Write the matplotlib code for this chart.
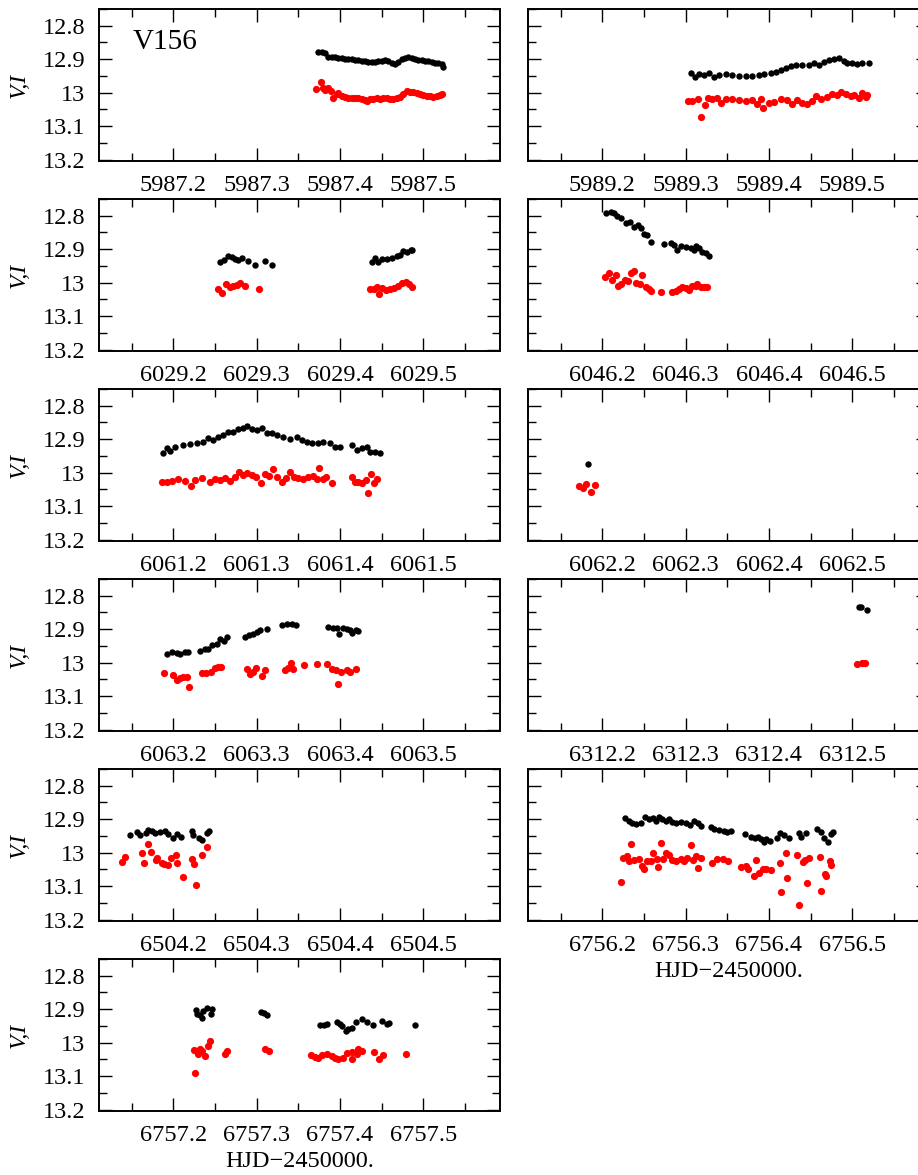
import matplotlib.pyplot as plt
from matplotlib.ticker import MultipleLocator, FormatStrFormatter

plt.rcParams['font.family'] = ['Liberation Serif', 'DejaVu Serif']

# light curves of V156, one night per panel (HJD-2450000, magnitude)
hjd_V_5987 = [5987.374, 5987.378, 5987.382, 5987.386, 5987.390, 5987.394, 5987.398, 5987.402,
              5987.406, 5987.410, 5987.414, 5987.418, 5987.422, 5987.426, 5987.430, 5987.434,
              5987.438, 5987.442, 5987.446, 5987.450, 5987.454, 5987.458, 5987.462, 5987.466,
              5987.470, 5987.474, 5987.478, 5987.482, 5987.486, 5987.490, 5987.494, 5987.498,
              5987.502, 5987.506, 5987.510, 5987.514, 5987.518, 5987.522, 5987.524]
mag_V_5987 = [12.877, 12.879, 12.882, 12.892, 12.893, 12.894, 12.895, 12.896,
              12.898, 12.899, 12.900, 12.902, 12.903, 12.905, 12.906, 12.907,
              12.909, 12.907, 12.906, 12.904, 12.903, 12.905, 12.910, 12.915,
              12.908, 12.900, 12.896, 12.894, 12.896, 12.898, 12.901, 12.902,
              12.904, 12.906, 12.908, 12.910, 12.911, 12.915, 12.922]
hjd_I_5987 = [5987.371, 5987.377, 5987.380, 5987.382, 5987.386, 5987.389, 5987.392, 5987.396,
              5987.398, 5987.402, 5987.406, 5987.410, 5987.414, 5987.418, 5987.422, 5987.426,
              5987.430, 5987.433, 5987.436, 5987.440, 5987.444, 5987.448, 5987.452, 5987.456,
              5987.460, 5987.464, 5987.468, 5987.472, 5987.476, 5987.480, 5987.484, 5987.488,
              5987.492, 5987.496, 5987.500, 5987.504, 5987.508, 5987.512, 5987.516, 5987.520,
              5987.522]
mag_I_5987 = [12.990, 12.969, 12.985, 12.992, 12.987, 12.995, 13.017, 13.005,
              13.000, 13.010, 13.013, 13.015, 13.017, 13.015, 13.016, 13.020,
              13.023, 13.025, 13.020, 13.018, 13.017, 13.018, 13.017, 13.017,
              13.018, 13.019, 13.016, 13.012, 13.005, 12.995, 12.997, 12.998,
              13.001, 13.004, 13.007, 13.009, 13.011, 13.012, 13.010, 13.007,
              13.005]

hjd_V_5989 = [5989.306, 5989.311, 5989.316, 5989.322, 5989.328, 5989.334, 5989.340, 5989.348,
              5989.356, 5989.364, 5989.372, 5989.380, 5989.388, 5989.394, 5989.402, 5989.408,
              5989.414, 5989.420, 5989.426, 5989.432, 5989.440, 5989.448, 5989.454, 5989.460,
              5989.466, 5989.472, 5989.478, 5989.484, 5989.490, 5989.494, 5989.500, 5989.506,
              5989.512, 5989.520]
mag_V_5989 = [12.940, 12.953, 12.944, 12.947, 12.940, 12.952, 12.947, 12.944,
              12.947, 12.949, 12.949, 12.950, 12.947, 12.944, 12.942, 12.937,
              12.932, 12.927, 12.920, 12.917, 12.917, 12.917, 12.912, 12.917,
              12.907, 12.902, 12.900, 12.897, 12.905, 12.912, 12.910, 12.914,
              12.910, 12.912]
hjd_I_5989 = [5989.303, 5989.308, 5989.315, 5989.319, 5989.323, 5989.327, 5989.332, 5989.338,
              5989.343, 5989.348, 5989.356, 5989.364, 5989.372, 5989.380, 5989.386, 5989.390,
              5989.393, 5989.400, 5989.406, 5989.414, 5989.422, 5989.428, 5989.434, 5989.440,
              5989.446, 5989.452, 5989.456, 5989.462, 5989.470, 5989.476, 5989.482, 5989.486,
              5989.492, 5989.498, 5989.502, 5989.508, 5989.512, 5989.516, 5989.518]
mag_I_5989 = [13.025, 13.025, 13.020, 13.073, 13.037, 13.017, 13.020, 13.015,
              13.032, 13.018, 13.020, 13.022, 13.025, 13.023, 13.035, 13.020,
              13.045, 13.032, 13.028, 13.020, 13.022, 13.035, 13.022, 13.030,
              13.035, 13.025, 13.010, 13.020, 13.013, 13.005, 13.007, 12.998,
              13.005, 13.010, 13.007, 13.017, 13.000, 13.012, 13.007]

hjd_V_6029 = [6029.256, 6029.261, 6029.266, 6029.270, 6029.274, 6029.278, 6029.283, 6029.290,
              6029.298, 6029.310, 6029.319,
              6029.438, 6029.442, 6029.446, 6029.450, 6029.456, 6029.462, 6029.468, 6029.472,
              6029.476, 6029.481, 6029.485, 6029.487]
mag_V_6029 = [12.939, 12.933, 12.921, 12.924, 12.928, 12.931, 12.926, 12.936,
              12.946, 12.934, 12.946,
              12.939, 12.926, 12.938, 12.929, 12.928, 12.926, 12.921, 12.916,
              12.906, 12.909, 12.901, 12.901]
hjd_I_6029 = [6029.254, 6029.259, 6029.263, 6029.268, 6029.272, 6029.277, 6029.280, 6029.286,
              6029.303,
              6029.436, 6029.441, 6029.444, 6029.447, 6029.451, 6029.455, 6029.460, 6029.465,
              6029.470, 6029.474, 6029.479, 6029.483, 6029.486]
mag_I_6029 = [13.018, 13.032, 13.005, 13.012, 13.010, 13.008, 13.002, 13.010,
              13.018,
              13.018, 13.020, 13.012, 13.035, 13.015, 13.022, 13.018, 13.016,
              13.010, 13.000, 12.998, 13.005, 13.013]

hjd_V_6046 = [6046.205, 6046.210, 6046.214, 6046.218, 6046.222, 6046.228, 6046.233, 6046.238,
              6046.243, 6046.247, 6046.250, 6046.254, 6046.258, 6046.274, 6046.282, 6046.286,
              6046.290, 6046.294, 6046.300, 6046.306, 6046.310, 6046.313, 6046.316, 6046.320,
              6046.324, 6046.328]
mag_V_6046 = [12.791, 12.788, 12.793, 12.800, 12.808, 12.823, 12.820, 12.835,
              12.828, 12.838, 12.855, 12.857, 12.879, 12.884, 12.882, 12.887,
              12.902, 12.890, 12.894, 12.897, 12.903, 12.889, 12.897, 12.909,
              12.912, 12.919]
hjd_I_6046 = [6046.203, 6046.208, 6046.212, 6046.216, 6046.219, 6046.223, 6046.227, 6046.231,
              6046.234, 6046.238, 6046.241, 6046.245, 6046.248, 6046.252, 6046.256, 6046.259,
              6046.270, 6046.284, 6046.288, 6046.292, 6046.296, 6046.300, 6046.304, 6046.308,
              6046.312, 6046.314, 6046.318, 6046.322, 6046.326]
mag_I_6046 = [12.983, 12.971, 12.993, 12.978, 13.011, 13.004, 12.993, 12.996,
              12.971, 12.964, 13.000, 13.004, 12.976, 13.013, 13.018, 13.024,
              13.029, 13.029, 13.026, 13.019, 13.013, 13.016, 13.023, 13.011,
              13.011, 13.003, 13.013, 13.013, 13.013]

hjd_V_6061 = [6061.188, 6061.192, 6061.196, 6061.202, 6061.212, 6061.220, 6061.228, 6061.236,
              6061.242, 6061.248, 6061.254, 6061.260, 6061.266, 6061.272, 6061.278, 6061.284,
              6061.288, 6061.294, 6061.300, 6061.306, 6061.312, 6061.318, 6061.324, 6061.332,
              6061.340, 6061.348, 6061.354, 6061.360, 6061.366, 6061.374, 6061.380, 6061.388,
              6061.394, 6061.400, 6061.414, 6061.420, 6061.426, 6061.432, 6061.436, 6061.442,
              6061.448]
mag_V_6061 = [12.940, 12.927, 12.935, 12.922, 12.917, 12.914, 12.912, 12.907,
              12.897, 12.902, 12.892, 12.887, 12.877, 12.877, 12.870, 12.867,
              12.862, 12.870, 12.872, 12.867, 12.880, 12.882, 12.887, 12.894,
              12.900, 12.894, 12.902, 12.907, 12.910, 12.912, 12.909, 12.912,
              12.922, 12.924, 12.917, 12.932, 12.927, 12.922, 12.937, 12.937,
              12.942]
hjd_I_6061 = [6061.186, 6061.192, 6061.198, 6061.206, 6061.214, 6061.221, 6061.226, 6061.234,
              6061.244, 6061.250, 6061.256, 6061.262, 6061.268, 6061.274, 6061.279, 6061.284,
              6061.288, 6061.294, 6061.299, 6061.305, 6061.310, 6061.315, 6061.320, 6061.324,
              6061.330, 6061.335, 6061.340, 6061.345, 6061.350, 6061.356, 6061.362, 6061.368,
              6061.372, 6061.375, 6061.380, 6061.383, 6061.390, 6061.414, 6061.418, 6061.422,
              6061.426, 6061.431, 6061.434, 6061.437, 6061.441, 6061.445]
mag_I_6061 = [13.027, 13.027, 13.024, 13.020, 13.024, 13.040, 13.022, 13.017,
              13.027, 13.019, 13.022, 13.017, 13.024, 13.012, 12.997, 13.007,
              13.000, 13.007, 13.012, 13.030, 13.004, 13.010, 12.990, 13.012,
              13.027, 13.017, 12.997, 13.012, 13.017, 13.020, 13.012, 13.010,
              13.020, 12.987, 13.020, 13.014, 13.032, 13.014, 13.027, 13.027,
              13.030, 13.022, 13.062, 13.004, 13.030, 13.020]

hjd_V_6062 = [6062.183]
mag_V_6062 = [12.973]
hjd_I_6062 = [6062.172, 6062.177, 6062.181, 6062.186, 6062.191]
mag_I_6062 = [13.040, 13.046, 13.035, 13.059, 13.038]

hjd_V_6063 = [6063.192, 6063.198, 6063.204, 6063.208, 6063.214, 6063.218, 6063.232, 6063.238,
              6063.242, 6063.247, 6063.252, 6063.256, 6063.261, 6063.265, 6063.286, 6063.291,
              6063.296, 6063.300, 6063.304, 6063.312, 6063.331, 6063.336, 6063.342, 6063.347,
              6063.386, 6063.392, 6063.396, 6063.399, 6063.404, 6063.408, 6063.412, 6063.415,
              6063.419, 6063.422]
mag_V_6063 = [12.973, 12.968, 12.970, 12.975, 12.968, 12.968, 12.965, 12.958,
              12.960, 12.947, 12.943, 12.930, 12.935, 12.923, 12.923, 12.917,
              12.913, 12.908, 12.903, 12.900, 12.887, 12.885, 12.885, 12.887,
              12.892, 12.897, 12.897, 12.913, 12.895, 12.900, 12.902, 12.910,
              12.903, 12.905]
hjd_I_6063 = [6063.189, 6063.200, 6063.204, 6063.208, 6063.212, 6063.216, 6063.219, 6063.234,
              6063.239, 6063.245, 6063.250, 6063.254, 6063.257, 6063.288, 6063.292, 6063.296,
              6063.299, 6063.306, 6063.310, 6063.334, 6063.338, 6063.341, 6063.344, 6063.357,
              6063.373, 6063.385, 6063.390, 6063.395, 6063.398, 6063.401, 6063.408, 6063.412,
              6063.419]
mag_I_6063 = [13.030, 13.037, 13.053, 13.045, 13.043, 13.043, 13.073, 13.032,
              13.030, 13.027, 13.017, 13.012, 13.013, 13.020, 13.035, 13.028,
              13.017, 13.040, 13.022, 13.023, 13.015, 13.000, 13.020, 13.008,
              13.005, 13.005, 13.020, 13.023, 13.063, 13.027, 13.023, 13.027,
              13.020]

hjd_V_6312 = [6312.508, 6312.511, 6312.518]
mag_V_6312 = [12.834, 12.835, 12.842]
hjd_I_6312 = [6312.506, 6312.512, 6312.515]
mag_I_6312 = [13.003, 13.002, 13.000]

hjd_V_6504 = [6504.148, 6504.156, 6504.160, 6504.167, 6504.170, 6504.174, 6504.178, 6504.184,
              6504.190, 6504.194, 6504.200, 6504.204, 6504.209, 6504.222, 6504.224, 6504.231,
              6504.234, 6504.241, 6504.243]
mag_V_6504 = [12.947, 12.937, 12.947, 12.940, 12.932, 12.935, 12.940, 12.938,
              12.935, 12.945, 12.955, 12.945, 12.953, 12.935, 12.947, 12.957,
              12.963, 12.940, 12.935]
hjd_I_6504 = [6504.139, 6504.142, 6504.162, 6504.165, 6504.170, 6504.173, 6504.179, 6504.181,
              6504.187, 6504.189, 6504.194, 6504.197, 6504.203, 6504.205, 6504.212, 6504.222,
              6504.225, 6504.227, 6504.235, 6504.240]
mag_I_6504 = [13.028, 13.013, 13.000, 13.031, 12.973, 12.999, 13.023, 13.015,
              13.030, 13.033, 13.038, 13.015, 13.007, 13.031, 13.073, 13.020,
              13.033, 13.095, 13.007, 12.983]

hjd_V_6756 = [6756.227, 6756.232, 6756.236, 6756.241, 6756.246, 6756.251, 6756.256, 6756.261,
              6756.264, 6756.268, 6756.272, 6756.276, 6756.280, 6756.284, 6756.288, 6756.294,
              6756.300, 6756.305, 6756.310, 6756.315, 6756.318, 6756.330, 6756.334, 6756.340,
              6756.346, 6756.350, 6756.354, 6756.371, 6756.379, 6756.383, 6756.387, 6756.391,
              6756.394, 6756.397, 6756.401, 6756.410, 6756.413, 6756.418, 6756.424, 6756.436,
              6756.438, 6756.444, 6756.458, 6756.462, 6756.466, 6756.471, 6756.474, 6756.477]
mag_V_6756 = [12.895, 12.905, 12.910, 12.914, 12.912, 12.892, 12.899, 12.895,
              12.905, 12.892, 12.899, 12.905, 12.899, 12.907, 12.912, 12.909,
              12.912, 12.917, 12.905, 12.912, 12.919, 12.922, 12.929, 12.932,
              12.935, 12.939, 12.935, 12.944, 12.952, 12.956, 12.952, 12.959,
              12.969, 12.960, 12.966, 12.956, 12.942, 12.947, 12.956, 12.942,
              12.952, 12.940, 12.929, 12.939, 12.956, 12.969, 12.945, 12.939]
hjd_I_6756 = [6756.222, 6756.225, 6756.230, 6756.232, 6756.235, 6756.238, 6756.244, 6756.248,
              6756.250, 6756.254, 6756.258, 6756.261, 6756.266, 6756.267, 6756.271, 6756.273,
              6756.277, 6756.280, 6756.284, 6756.289, 6756.294, 6756.298, 6756.302, 6756.307,
              6756.309, 6756.313, 6756.315, 6756.319, 6756.332, 6756.338, 6756.345, 6756.351,
              6756.366, 6756.373, 6756.375, 6756.382, 6756.384, 6756.388, 6756.393, 6756.397,
              6756.403, 6756.413, 6756.415, 6756.420, 6756.422, 6756.434, 6756.436, 6756.441,
              6756.443, 6756.446, 6756.448, 6756.461, 6756.462, 6756.467, 6756.469, 6756.473,
              6756.474]
mag_I_6756 = [13.088, 13.016, 13.011, 13.025, 12.974, 13.021, 13.018, 13.039,
              13.048, 13.025, 13.025, 13.001, 13.018, 13.044, 12.971, 13.018,
              13.001, 13.006, 13.021, 13.024, 13.019, 13.024, 13.016, 12.978,
              13.021, 13.011, 13.046, 13.016, 13.030, 13.018, 13.018, 13.024,
              13.043, 13.039, 13.050, 13.070, 13.022, 13.060, 13.050, 13.050,
              13.053, 13.031, 13.118, 13.001, 13.075, 13.008, 13.156, 13.027,
              13.022, 13.090, 13.016, 13.014, 13.113, 13.065, 13.070, 13.026,
              13.036]

hjd_V_6757 = [6757.227, 6757.229, 6757.232, 6757.234, 6757.236, 6757.240, 6757.245, 6757.247,
              6757.305, 6757.309, 6757.313,
              6757.376, 6757.381, 6757.385, 6757.396, 6757.400, 6757.403, 6757.407, 6757.410,
              6757.414, 6757.419, 6757.426, 6757.432, 6757.440, 6757.451, 6757.456, 6757.459,
              6757.490]
mag_V_6757 = [12.903, 12.913, 12.916, 12.926, 12.906, 12.896, 12.913, 12.898,
              12.908, 12.911, 12.916,
              12.946, 12.948, 12.943, 12.938, 12.943, 12.950, 12.966, 12.960,
              12.956, 12.938, 12.928, 12.938, 12.946, 12.936, 12.943, 12.941,
              12.946]
hjd_I_6757 = [6757.225, 6757.226, 6757.230, 6757.232, 6757.235, 6757.238, 6757.242, 6757.244,
              6757.262, 6757.264, 6757.310, 6757.315,
              6757.365, 6757.370, 6757.374, 6757.378, 6757.384, 6757.390, 6757.394, 6757.398,
              6757.404, 6757.409, 6757.414, 6757.415, 6757.420, 6757.422, 6757.427, 6757.441,
              6757.447, 6757.452, 6757.479]
mag_I_6757 = [13.023, 13.091, 13.033, 13.018, 13.026, 13.040, 13.011, 12.995,
              13.033, 13.026, 13.018, 13.026,
              13.036, 13.043, 13.046, 13.038, 13.035, 13.040, 13.046, 13.048,
              13.046, 13.030, 13.050, 13.028, 13.033, 13.020, 13.026, 13.028,
              13.050, 13.036, 13.035]

nights = [5987, 5989, 6029, 6046, 6061, 6062, 6063, 6312, 6504, 6756, 6757]
curves = [
    (hjd_V_5987, mag_V_5987, hjd_I_5987, mag_I_5987),
    (hjd_V_5989, mag_V_5989, hjd_I_5989, mag_I_5989),
    (hjd_V_6029, mag_V_6029, hjd_I_6029, mag_I_6029),
    (hjd_V_6046, mag_V_6046, hjd_I_6046, mag_I_6046),
    (hjd_V_6061, mag_V_6061, hjd_I_6061, mag_I_6061),
    (hjd_V_6062, mag_V_6062, hjd_I_6062, mag_I_6062),
    (hjd_V_6063, mag_V_6063, hjd_I_6063, mag_I_6063),
    (hjd_V_6312, mag_V_6312, hjd_I_6312, mag_I_6312),
    (hjd_V_6504, mag_V_6504, hjd_I_6504, mag_I_6504),
    (hjd_V_6756, mag_V_6756, hjd_I_6756, mag_I_6756),
    (hjd_V_6757, mag_V_6757, hjd_I_6757, mag_I_6757),
]

W, H = 918, 1175
fig = plt.figure(figsize=(W / 100, H / 100), dpi=100)

for i, (night, (tv, mv, ti, mi)) in enumerate(zip(nights, curves)):
    row, col = divmod(i, 2)
    left = 99 if col == 0 else 528
    top = 9 + 190 * row
    ax = fig.add_axes([left / W, (H - top - 152) / H, 401 / W, 152 / H])

    ax.plot(tv, mv, 'o', color='black', ms=4.6, mec='none')
    ax.plot(ti, mi, 'o', color='#ff0000', ms=5.2, mec='none')

    ax.set_xlim(night + 0.111, night + 0.592)
    ax.set_ylim(13.204, 12.75)

    ax.xaxis.set_major_locator(MultipleLocator(0.1))
    ax.xaxis.set_minor_locator(MultipleLocator(0.05))
    ax.xaxis.set_major_formatter(FormatStrFormatter('%.1f'))
    ax.yaxis.set_major_locator(MultipleLocator(0.1))
    ax.yaxis.set_minor_locator(MultipleLocator(0.05))
    ax.yaxis.set_major_formatter(FormatStrFormatter('%g'))

    ax.tick_params(which='both', direction='in', top=True, right=True,
                   width=1.0, labelsize=17.5, pad=10)
    ax.tick_params(which='major', length=9.5)
    ax.tick_params(which='minor', length=5.5)
    for s in ax.spines.values():
        s.set_linewidth(1.4)

    if col == 0:
        ax.set_ylabel('V,I', fontsize=17, fontstyle='italic')
        ax.yaxis.set_label_coords(-0.172, 0.5)
    else:
        ax.tick_params(labelleft=False)

    if i >= 9:
        ax.set_xlabel('HJD\u22122450000.', fontsize=17.5, labelpad=4)

    if i == 0:
        ax.text(0.085, 0.78, 'V156', transform=ax.transAxes, fontsize=21,
                va='center', ha='left')

fig.savefig('out.png', dpi=100)
